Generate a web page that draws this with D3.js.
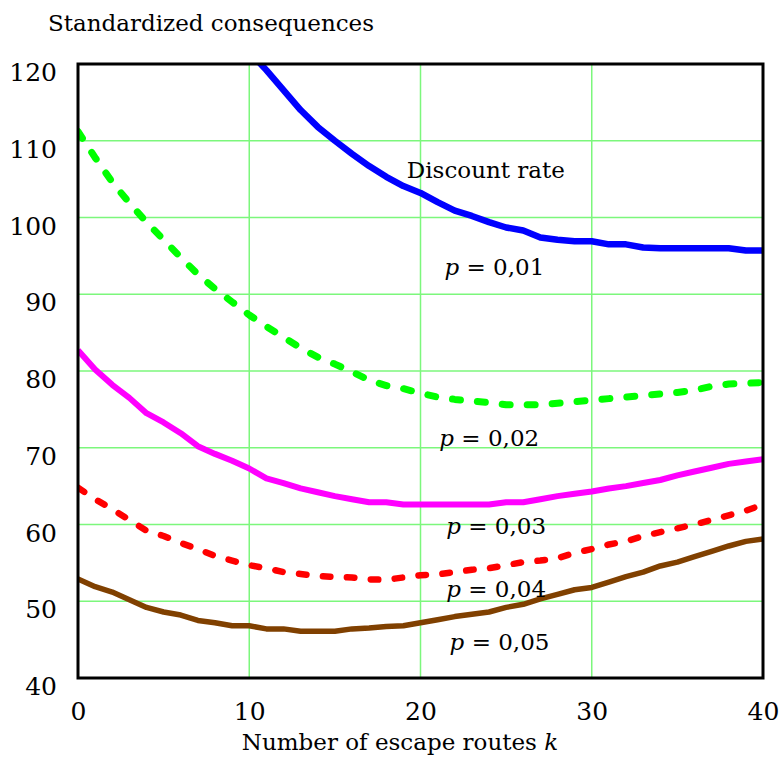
<!DOCTYPE html>
<html>
<head>
<meta charset="utf-8">
<script src="https://cdn.jsdelivr.net/npm/d3@7"></script>
<style>
  body { margin: 0; background: #fff; }
</style>
</head>
<body>
<div id="chart1"></div>
<script>

// number of escape routes k
const routes = d3.range(0, 41);

// standardized consequences for each discount rate
const p001 = [null, null, null, null, null, null, null, null, null, null,
  121.6, 119.2, 116.6, 114.0, 111.8, 110.0, 108.3, 106.7, 105.3, 104.1,
  103.2, 102.0, 100.9, 100.2, 99.4, 98.7, 98.3, 97.4, 97.1, 96.9,
  96.9, 96.5, 96.5, 96.1, 96.0, 96.0, 96.0, 96.0, 96.0, 95.7, 95.7];
const p002 = [111.2, 107.8, 104.6, 101.9, 99.4, 97.1, 94.8, 92.6, 90.7, 89.0,
  87.3, 85.8, 84.4, 83.0, 81.8, 80.9, 79.9, 78.8, 78.1, 77.7,
  77.1, 76.6, 76.3, 76.1, 75.9, 75.6, 75.6, 75.6, 75.8, 76.0,
  76.2, 76.4, 76.6, 76.8, 77.0, 77.2, 77.5, 78.0, 78.3, 78.4, 78.5];
const p003 = [82.7, 80.2, 78.2, 76.5, 74.5, 73.3, 71.9, 70.2, 69.2, 68.3,
  67.3, 66.0, 65.4, 64.7, 64.2, 63.7, 63.3, 62.9, 62.9, 62.6,
  62.6, 62.6, 62.6, 62.6, 62.6, 62.9, 62.9, 63.3, 63.7, 64.0,
  64.3, 64.7, 65.0, 65.4, 65.8, 66.4, 66.9, 67.4, 67.9, 68.2, 68.5];
const p004 = [64.8, 63.3, 62.0, 60.6, 59.2, 58.5, 57.6, 56.8, 55.9, 55.3,
  54.7, 54.3, 53.8, 53.55, 53.3, 53.15, 53.1, 52.85, 52.8, 53.1,
  53.4, 53.5, 53.8, 54.1, 54.3, 54.7, 55.1, 55.3, 55.6, 56.3,
  56.8, 57.4, 57.8, 58.5, 59.0, 59.5, 60.0, 60.6, 61.2, 61.8, 62.6];
const p005 = [52.9, 51.9, 51.2, 50.2, 49.2, 48.6, 48.2, 47.5, 47.2, 46.8,
  46.8, 46.4, 46.4, 46.1, 46.1, 46.1, 46.4, 46.5, 46.7, 46.8,
  47.2, 47.6, 48.0, 48.3, 48.6, 49.2, 49.6, 50.3, 50.9, 51.5,
  51.8, 52.5, 53.2, 53.8, 54.6, 55.1, 55.8, 56.5, 57.2, 57.8, 58.1];

const xTicks = [0, 10, 20, 30, 40];
const yTicks = [40, 50, 60, 70, 80, 90, 100, 110, 120];

const series = [
  { values: p001, color: "#0000ff", width: 6.5, dash: null },
  { values: p002, color: "#00ff00", width: 7, dash: "8,17" },
  { values: p003, color: "#ff00ff", width: 6, dash: null },
  { values: p004, color: "#ff0000", width: 6.5, dash: "7.5,16.5" },
  { values: p005, color: "#804000", width: 5.5, dash: null }
];

// text in the plot, placed in data units
const notes = [
  { k: 19.2, v: 105.1, text: "Discount rate" },
  { k: 21.4, v: 92.5, p: "0,01" },
  { k: 21.1, v: 70.2, p: "0,02" },
  { k: 21.5, v: 58.8, p: "0,03" },
  { k: 21.5, v: 50.5, p: "0,04" },
  { k: 21.7, v: 43.7, p: "0,05" }
];

const serif = "'DejaVu Serif', serif";

const width = 784;
const height = 770;
const margin = {top: 64, right: 21, bottom: 92, left: 78};
const w = width - margin.left - margin.right;
const h = height - margin.top - margin.bottom;

const svg = d3.select("#chart1").append("svg")
    .attr("width", width)
    .attr("height", height)
    .attr("font-family", serif);

const g = svg.append("g")
    .attr("transform", "translate(" + margin.left + "," + margin.top + ")");

const x = d3.scaleLinear().domain([0, 40]).range([0, w]);
const y = d3.scaleLinear().domain([40, 120]).range([h, 0]);

// grid
g.append("g")
  .selectAll("line")
  .data(xTicks.slice(1, -1))
  .join("line")
    .attr("x1", d => x(d)).attr("x2", d => x(d))
    .attr("y1", 0).attr("y2", h)
    .attr("stroke", "#7cf77c").attr("stroke-width", 1.5);
g.append("g")
  .selectAll("line")
  .data(yTicks.slice(1, -1))
  .join("line")
    .attr("y1", d => y(d)).attr("y2", d => y(d))
    .attr("x1", 0).attr("x2", w)
    .attr("stroke", "#7cf77c").attr("stroke-width", 1.5);

// axes
const xAxis = g.append("g")
    .attr("transform", "translate(0," + h + ")")
    .call(d3.axisBottom(x).tickValues(xTicks).tickSize(0).tickPadding(0))
    .attr("font-family", serif).attr("font-size", 25);
xAxis.select(".domain").remove();
xAxis.selectAll("text")
    .attr("y", 42).attr("dy", 0);

const yAxis = g.append("g")
    .call(d3.axisLeft(y).tickValues(yTicks).tickSize(0).tickPadding(0))
    .attr("font-family", serif).attr("font-size", 25);
yAxis.select(".domain").remove();
yAxis.selectAll("text")
    .attr("x", -21).attr("dy", "0.66em");

// clip
g.append("defs").append("clipPath")
    .attr("id", "clip")
  .append("rect")
    .attr("width", w).attr("height", h);

const line = d3.line()
    .defined(d => d[1] != null)
    .x(d => x(d[0]))
    .y(d => y(d[1]));

const lines = g.append("g").attr("clip-path", "url(#clip)");
series.forEach(s => {
  lines.append("path")
      .datum(routes.map((k, i) => [k, s.values[i]]))
      .attr("fill", "none")
      .attr("stroke", s.color)
      .attr("stroke-width", s.width)
      .attr("stroke-linejoin", "round")
      .attr("stroke-linecap", s.dash ? "round" : "butt")
      .attr("stroke-dasharray", s.dash)
      .attr("d", line);
});

// frame
g.append("rect")
    .attr("width", w).attr("height", h)
    .attr("fill", "none")
    .attr("stroke", "#000").attr("stroke-width", 3);

// labels inside the plot
notes.forEach(n => {
  const t = g.append("text")
      .attr("x", x(n.k)).attr("y", y(n.v))
      .attr("font-size", 23);
  if (n.text) {
    t.text(n.text);
  } else {
    t.append("tspan").attr("font-style", "italic").text("p");
    t.append("tspan").text(" = " + n.p);
  }
});

// axis titles
svg.append("text")
    .attr("x", 48).attr("y", 31)
    .attr("font-size", 23)
    .text("Standardized consequences");

const xt = svg.append("text")
    .attr("x", 400).attr("y", 750)
    .attr("text-anchor", "middle")
    .attr("font-size", 23);
xt.append("tspan").text("Number of escape routes ");
xt.append("tspan").attr("font-style", "italic").text("k");

</script>
</body>
</html>
